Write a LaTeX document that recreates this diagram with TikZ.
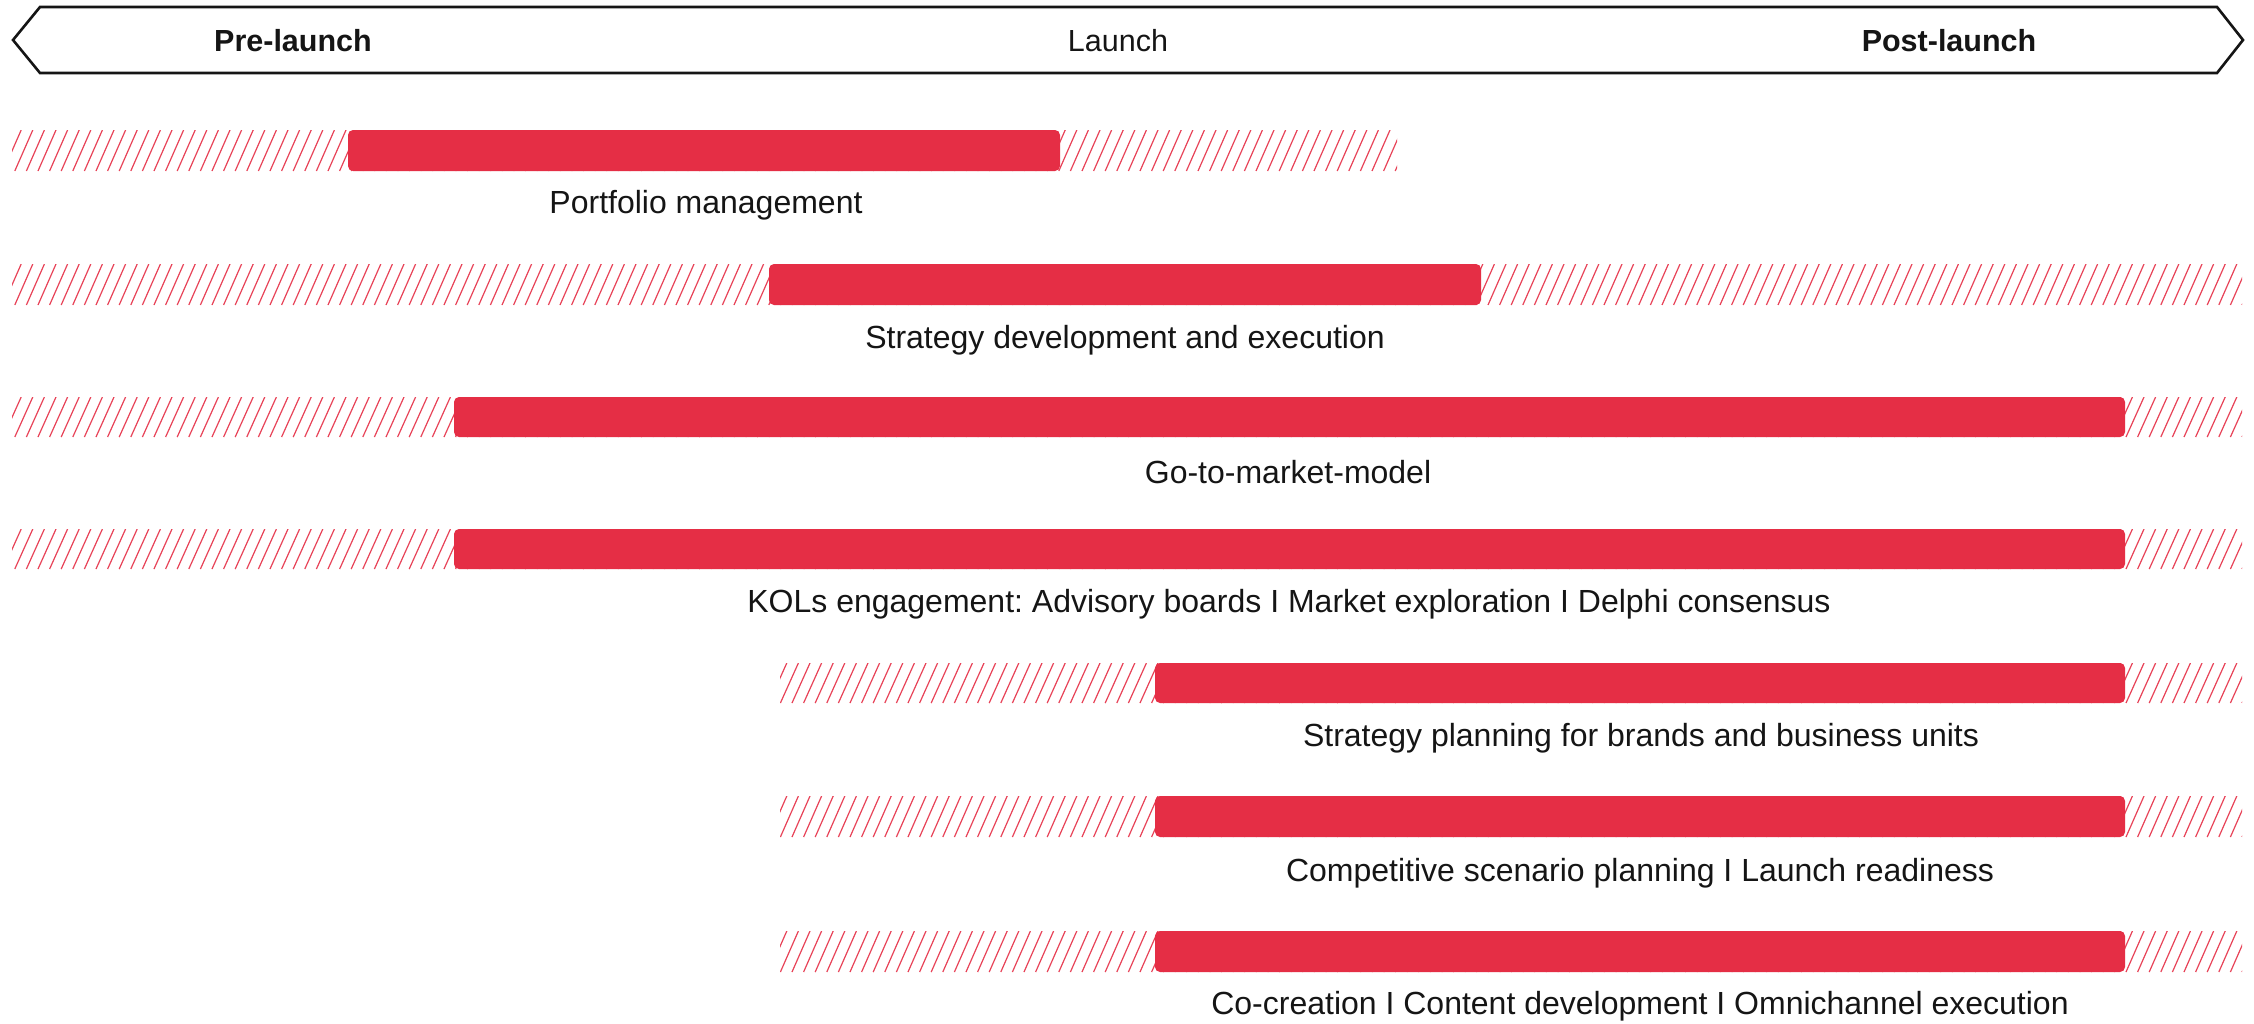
\documentclass[tikz,border=0pt]{standalone}
\usepackage{fontspec}
\setmainfont{Liberation Sans}
\frenchspacing
\definecolor{barred}{HTML}{E52E45}
\definecolor{ink}{HTML}{151515}
\tikzset{
  banner/.style={draw=ink, line width=2.6pt, line join=miter, fill=white},
  bar/.style={fill=barred, rounded corners=5pt},
  hatchline/.style={draw=barred!90, line width=1.2pt},
  lbl/.style={font=\fontsize{32}{38}\selectfont, text=ink, inner sep=0pt, anchor=center},
  hdr/.style={font=\fontsize{30.5}{36}\selectfont, text=ink, inner sep=0pt, anchor=center}
}
\newcommand{\hatchzone}[4]{% x1 x2 ytop ybottom
  \begin{scope}
    \clip (#1,#3) rectangle (#2,#4);
    \foreach \hx in {-20,-8.4,...,2260} {
      \draw[hatchline] (\hx,#4) -- ++(18,{-(#4-#3)});
    }
  \end{scope}
}
\begin{document}
\begin{tikzpicture}[x=1pt,y=-1pt]
\useasboundingbox (0,0) rectangle (2254,1023);
\fill[white] (0,0) rectangle (2254,1023);
% banner
\draw[banner] (40,7) -- (2217,7) -- (2243,40) -- (2217,73) -- (40,73) -- (13,40) -- cycle;
\node[hdr, font=\fontsize{30.5}{36}\selectfont\bfseries] (pre) at (293,41) {Pre-launch};
\node[hdr] (launch) at (1118,41) {Launch};
\node[hdr, font=\fontsize{30.5}{36}\selectfont\bfseries] (post) at (1949,41) {Post-launch};
% row 1
\hatchzone{12}{1397}{130}{171}
\fill[bar] (348,130) rectangle (1060,171);
\node[lbl] (l1) at (706,205) {Portfolio management};
% row 2
\hatchzone{12}{2242}{264}{305}
\fill[bar] (769,264) rectangle (1481,305);
\node[lbl] (l2) at (1125,340) {Strategy development and execution};
% row 3
\hatchzone{12}{2242}{397}{437}
\fill[bar] (454,397) rectangle (2125,437);
\node[lbl] (l3) at (1288,472) {Go-to-market-model};
% row 4
\hatchzone{12}{2242}{529}{569}
\fill[bar] (454,529) rectangle (2125,569);
\node[lbl] (l4) at (1289,604) {KOLs engagement: Advisory boards I Market exploration I Delphi consensus};
% row 5
\hatchzone{780}{2242}{663}{703}
\fill[bar] (1155,663) rectangle (2125,703);
\node[lbl] (l5) at (1641,738) {Strategy planning for brands and business units};
% row 6
\hatchzone{780}{2242}{796}{837}
\fill[bar] (1155,796) rectangle (2125,837);
\node[lbl] (l6) at (1640,873) {Competitive scenario planning I Launch readiness};
% row 7
\hatchzone{780}{2242}{931}{972}
\fill[bar] (1155,931) rectangle (2125,972);
\node[lbl] (l7) at (1640,1006) {Co-creation I Content development I Omnichannel execution};
\end{tikzpicture}
\end{document}
